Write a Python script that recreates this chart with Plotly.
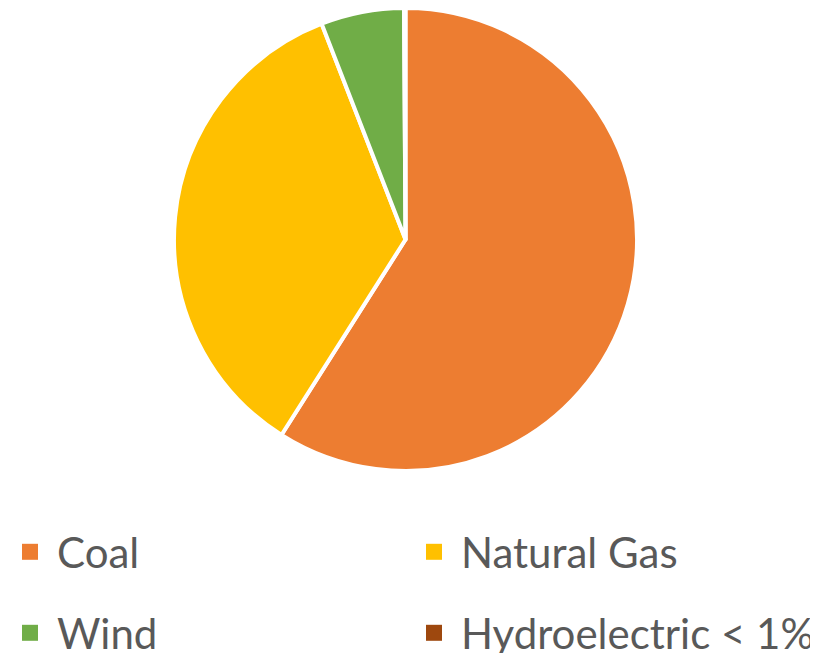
import plotly.graph_objects as go

labels = ["Coal", "Natural Gas", "Wind", "Hydroelectric < 1%"]
values = [59.0, 35.1, 5.8, 0.1]
colors = ["#ED7D31", "#FFC000", "#70AD47", "#9E480E"]
legend_rows = ["legend", "legend", "legend2", "legend2"]

W, H = 818, 653
MB = 180           # bottom margin reserved for the legend
PH = H - MB        # plot-area height
OFF = 8            # page body offset

fig = go.Figure()
fig.add_trace(go.Pie(
    labels=labels, values=values, sort=False, direction="clockwise", rotation=0,
    marker=dict(colors=colors, line=dict(color="white", width=4)),
    textinfo="none", hoverinfo="label+percent", showlegend=False,
    domain=dict(x=[(174 - OFF) / W, (637 - OFF) / W],
                y=[1 - (471 - OFF) / PH, 1.0]),
))
for lab, col, lg in zip(labels, colors, legend_rows):
    fig.add_trace(go.Scatter(
        x=[None], y=[None], mode="markers", name=lab, legend=lg,
        marker=dict(symbol="square", size=18, color=col),
        showlegend=True,
    ))

legend_style = dict(
    orientation="h", xanchor="left", yanchor="middle",
    entrywidth=345, entrywidthmode="pixels", bgcolor="rgba(0,0,0,0)",
    font=dict(family="Lato, Carlito, sans-serif", size=42, color="#595959"),
    itemsizing="trace", traceorder="normal", itemwidth=44,
)
fig.update_layout(
    width=W, height=H, margin=dict(l=0, r=0, t=0, b=MB, autoexpand=False),
    paper_bgcolor="white", plot_bgcolor="white",
    xaxis=dict(visible=False), yaxis=dict(visible=False),
    legend=dict(x=-5 / W, y=(PH - 544) / PH, **legend_style),
    legend2=dict(x=-5 / W, y=(PH - 625) / PH, **legend_style),
)
fig.write_html("out.html")
